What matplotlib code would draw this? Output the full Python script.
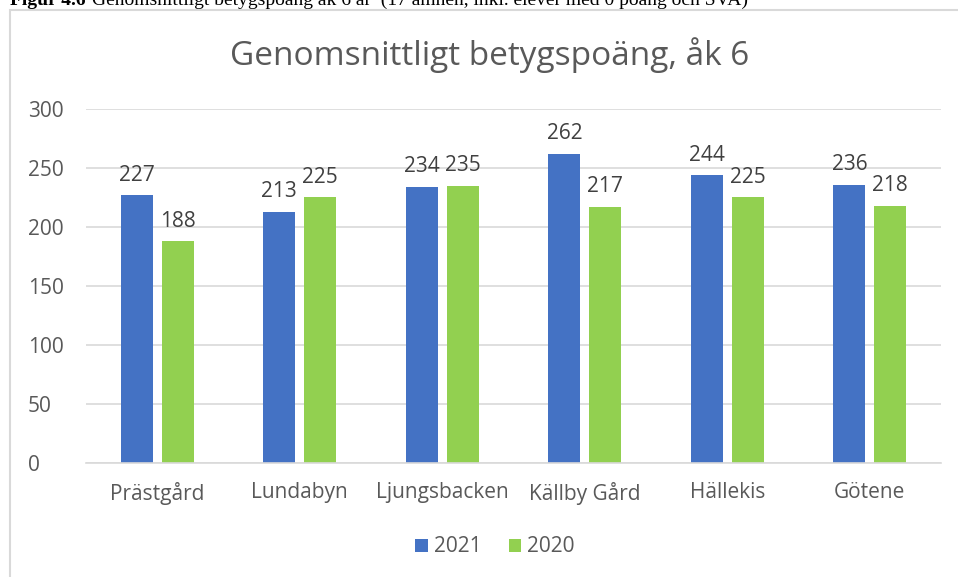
import matplotlib.pyplot as plt
import numpy as np
from matplotlib.patches import Rectangle

schools = ['Prästgård', 'Lundabyn', 'Ljungsbacken', 'Källby Gård', 'Hällekis', 'Götene']
y2021 = [227, 213, 234, 262, 244, 236]
y2020 = [188, 225, 235, 217, 225, 218]

plt.rcParams['font.family'] = ['Open Sans', 'DejaVu Sans']

fig = plt.figure(figsize=(9.58, 5.77), dpi=100)
W, H = 958, 577

# chart frame (cut off at right and bottom)
fig.patches.append(Rectangle((10 / W, -0.1), 1.2, 1 - 10 / H + 0.1, transform=fig.transFigure,
                             fill=False, edgecolor='#d9d9d9', lw=1.5))

# caption, cut at top of the page as in the source
fig.text(10 / W, 1 - 5 / H, 'Figur 4.6 ', fontsize=14, fontweight='bold', family='Liberation Serif',
         va='baseline', ha='left', color='black')
fig.text(92 / W, 1 - 5 / H, 'Genomsnittligt betygspoäng åk 6 år  (17 ämnen, inkl. elever med 0 poäng och SVA)',
         fontsize=14, family='Liberation Serif', va='baseline', ha='left', color='black')

ax = fig.add_axes([86 / W, 1 - 463 / H, (941 - 86) / W, (463 - 109) / H])
x = np.arange(len(schools))
w = 0.226
b1 = ax.bar(x - w / 2 - 0.03, y2021, w, color='#4472c4', label='2021')
b2 = ax.bar(x + w / 2 + 0.03, y2020, w, color='#92d050', label='2020')
for bars in (b1, b2):
    for r in bars:
        ax.text(r.get_x() + r.get_width() / 2, r.get_height() + 8, f'{int(r.get_height())}',
                ha='center', va='bottom', fontsize=15, color='#404040')

ax.set_xlim(-0.5, len(schools) - 0.5)
ax.set_ylim(0, 300)
ax.set_yticks(range(0, 301, 50))
ax.set_xticks(x)
ax.set_xticklabels(schools)
ax.grid(axis='y', color='#d9d9d9', lw=1.2)
ax.set_axisbelow(True)
for s in ['top', 'right', 'left']:
    ax.spines[s].set_visible(False)
ax.spines['bottom'].set_color('#d9d9d9')
ax.spines['bottom'].set_linewidth(1.2)
ax.tick_params(axis='both', length=0, labelsize=15, colors='#595959')
ax.tick_params(axis='y', pad=42)
ax.tick_params(axis='x', pad=14)
for lab in ax.get_yticklabels():
    lab.set_ha('left')

fig.text(490 / W, 1 - 55 / H, 'Genomsnittligt betygspoäng, åk 6', fontsize=24, color='#595959',
         ha='center', va='center')

fig.legend(handles=[b1, b2], loc='center', bbox_to_anchor=(495 / W, 1 - 547 / H), ncol=2,
           frameon=False, fontsize=15, handlelength=0.6, handleheight=0.6, columnspacing=1.3,
           handletextpad=0.3, labelcolor='#595959')

fig.savefig('out.png', dpi=100)
